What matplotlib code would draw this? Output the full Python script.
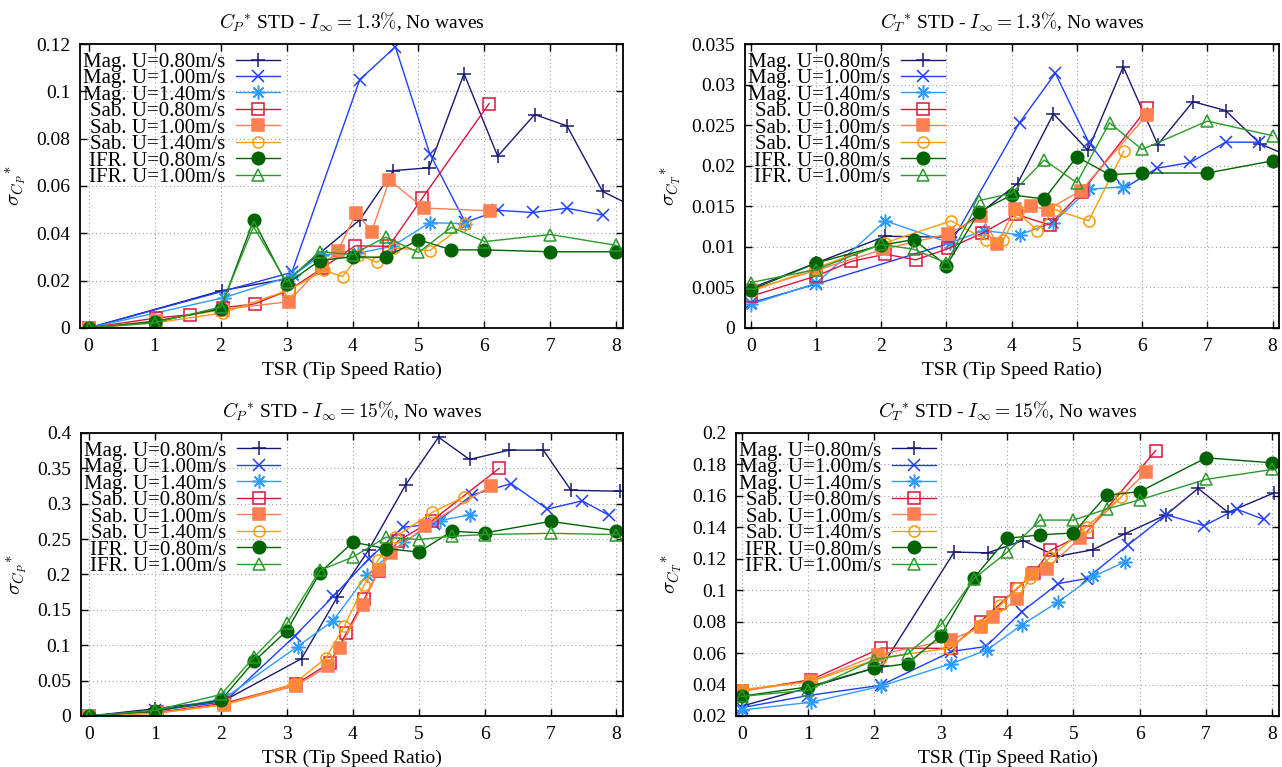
import numpy as np
import matplotlib.pyplot as plt
from matplotlib.ticker import FuncFormatter

plt.rcParams['font.family'] = 'serif'
plt.rcParams['font.serif'] = ['Liberation Serif', 'DejaVu Serif']
plt.rcParams['mathtext.fontset'] = 'cm'

labels = ["Mag. U=0.80m/s", "Mag. U=1.00m/s", "Mag. U=1.40m/s",
          "Sab. U=0.80m/s", "Sab. U=1.00m/s", "Sab. U=1.40m/s",
          "IFR. U=0.80m/s", "IFR. U=1.00m/s"]

# IFR runs share the same TSR set-points
tsr_ifr = [0, 1, 2, 2.5, 3, 3.5, 4, 4.5, 5, 5.5, 6, 7, 8]

# --- CP* STD, I = 1.3% ---
cp13_mag080_x = [0, 2.02, 3.05, 4.11, 4.62, 5.16, 5.69, 6.2, 6.76, 7.25, 7.79, 8.35]
cp13_mag080_y = [0, 0.0158, 0.021, 0.0457, 0.0665, 0.0677, 0.1075, 0.0726, 0.0902, 0.0854, 0.0577, 0.050]
cp13_mag100_x = [0, 3.08, 4.11, 4.65, 5.17, 5.71, 6.21, 6.73, 7.25, 7.79]
cp13_mag100_y = [0, 0.0235, 0.105, 0.1188, 0.0737, 0.0446, 0.0497, 0.0488, 0.0506, 0.0477]
cp13_mag140_x = [0, 2.05, 3.1, 3.54, 4.08, 4.6, 5.17, 5.7]
cp13_mag140_y = [0, 0.0128, 0.0222, 0.031, 0.0316, 0.0345, 0.0445, 0.0441]
cp13_sab080_x = [0, 1.02, 1.53, 2.03, 2.52, 3.04, 3.54, 4.04, 4.55, 5.06, 6.07]
cp13_sab080_y = [0, 0.0042, 0.0056, 0.0085, 0.0102, 0.016, 0.0253, 0.0347, 0.0345, 0.055, 0.0948]
cp13_sab100_x = [0, 1.02, 2.03, 3.03, 3.53, 3.78, 4.06, 4.29, 4.56, 5.08, 6.09]
cp13_sab100_y = [0, 0.003, 0.0078, 0.0111, 0.026, 0.0327, 0.0487, 0.0407, 0.0625, 0.0507, 0.0495]
cp13_sab140_x = [0, 1.02, 2.03, 3.04, 3.57, 3.85, 4.1, 4.37, 4.63, 5.17, 5.71]
cp13_sab140_y = [0, 0.0022, 0.0063, 0.0161, 0.0243, 0.0217, 0.0309, 0.0277, 0.0337, 0.0327, 0.044]
cp13_ifr080_y = [0, 0.0027, 0.008, 0.0455, 0.0185, 0.0285, 0.0301, 0.0298, 0.0373, 0.033, 0.033, 0.0322, 0.0322]
cp13_ifr100_y = [0, 0.0022, 0.0088, 0.0428, 0.0195, 0.0323, 0.031, 0.0384, 0.0319, 0.0426, 0.0365, 0.0395, 0.0349]

# --- CT* STD, I = 1.3% ---
ct13_mag080_x = [0, 1, 2.06, 3.05, 4.09, 4.64, 5.17, 5.71, 6.24, 6.78, 7.28, 7.81, 8.3]
ct13_mag080_y = [0.0049, 0.008, 0.0113, 0.0112, 0.0178, 0.0264, 0.0219, 0.0322, 0.0226, 0.0279, 0.0268, 0.0227, 0.021]
ct13_mag100_x = [0, 1, 3.07, 4.12, 4.67, 5.18, 5.72, 6.23, 6.74, 7.28, 7.8]
ct13_mag100_y = [0.0031, 0.0054, 0.0105, 0.0253, 0.0314, 0.0229, 0.0172, 0.0197, 0.0204, 0.0229, 0.0229]
ct13_mag140_x = [0, 1, 2.06, 3.05, 3.57, 4.12, 4.64, 5.18, 5.71]
ct13_mag140_y = [0.0029, 0.0055, 0.0132, 0.0105, 0.012, 0.0115, 0.013, 0.0171, 0.0174]
ct13_sab080_x = [0, 1, 1.54, 2.06, 2.53, 3.03, 3.55, 4.07, 4.58, 5.08, 6.08]
ct13_sab080_y = [0.0039, 0.0064, 0.0082, 0.0091, 0.0084, 0.0098, 0.0117, 0.014, 0.0127, 0.0168, 0.0271]
ct13_sab100_x = [0, 1, 2.03, 3.03, 3.53, 3.78, 4.05, 4.3, 4.55, 5.06, 6.08]
ct13_sab100_y = [0.0047, 0.0071, 0.0097, 0.0116, 0.0138, 0.0104, 0.0147, 0.015, 0.0146, 0.0169, 0.0263]
ct13_sab140_x = [0, 1, 2.06, 3.07, 3.6, 3.87, 4.09, 4.39, 4.66, 5.18, 5.72]
ct13_sab140_y = [0.0045, 0.0074, 0.0105, 0.0132, 0.0109, 0.0108, 0.0143, 0.012, 0.0146, 0.0132, 0.0218]
ct13_ifr080_y = [0.0047, 0.008, 0.0102, 0.0109, 0.0077, 0.0143, 0.0164, 0.0159, 0.0211, 0.0189, 0.0191, 0.0191, 0.0206]
ct13_ifr100_y = [0.0056, 0.0072, 0.0103, 0.0097, 0.008, 0.0157, 0.0166, 0.0207, 0.0179, 0.0253, 0.022, 0.0255, 0.0237]

# --- CP* STD, I = 15% ---
cp15_mag080_x = [0, 1, 2.05, 3.22, 3.76, 4.24, 4.8, 5.3, 5.77, 6.37, 6.89, 7.31, 8.05]
cp15_mag080_y = [0, 0.0103, 0.022, 0.081, 0.1675, 0.235, 0.3266, 0.394, 0.3626, 0.3757, 0.3757, 0.319, 0.3177]
cp15_mag100_x = [0, 1, 2.05, 3.12, 3.7, 4.24, 4.76, 5.23, 5.81, 6.4, 6.95, 7.48, 7.88]
cp15_mag100_y = [0, 0.008, 0.02, 0.1132, 0.169, 0.222, 0.2667, 0.2713, 0.3125, 0.3284, 0.2924, 0.3041, 0.284]
cp15_mag140_x = [0, 1, 2.05, 3.16, 3.7, 4.21, 4.76, 5.32, 5.77]
cp15_mag140_y = [0, 0.006, 0.025, 0.0982, 0.1347, 0.1988, 0.2456, 0.276, 0.2844]
cp15_sab080_x = [0, 1.02, 2.05, 3.14, 3.65, 3.9, 4.17, 4.39, 4.68, 5.2, 6.22]
cp15_sab080_y = [0, 0.005, 0.018, 0.0454, 0.0749, 0.117, 0.1647, 0.2049, 0.247, 0.276, 0.35]
cp15_sab100_x = [0, 1.02, 2.05, 3.14, 3.62, 3.8, 4.15, 4.39, 4.58, 5.1, 6.09]
cp15_sab100_y = [0, 0.004, 0.016, 0.043, 0.0702, 0.096, 0.1567, 0.207, 0.2306, 0.268, 0.325]
cp15_sab140_x = [0, 1.02, 2.05, 3.1, 3.59, 3.87, 4.17, 4.38, 4.64, 5.2, 5.69]
cp15_sab140_y = [0, 0.004, 0.016, 0.045, 0.0819, 0.127, 0.1848, 0.22, 0.2526, 0.2877, 0.3097]
cp15_ifr080_y = [0, 0.007, 0.0225, 0.0772, 0.1207, 0.2026, 0.2456, 0.2367, 0.2316, 0.261, 0.2587, 0.2751, 0.262]
cp15_ifr100_y = [0, 0.008, 0.0304, 0.0833, 0.131, 0.2058, 0.2246, 0.2526, 0.2494, 0.254, 0.2564, 0.2582, 0.2564]

# --- CT* STD, I = 15% ---
ct15_mag080_x = [0, 1, 2.12, 3.2, 3.71, 4.24, 4.75, 5.29, 5.77, 6.4, 6.88, 7.33, 8.03]
ct15_mag080_y = [0.0263, 0.0379, 0.052, 0.1242, 0.1238, 0.1316, 0.1215, 0.1257, 0.1358, 0.148, 0.1648, 0.1495, 0.162]
ct15_mag100_x = [0, 1, 2.1, 3.16, 3.68, 4.22, 4.77, 5.2, 5.83, 6.4, 6.97, 7.46, 7.87]
ct15_mag100_y = [0.0253, 0.033, 0.0396, 0.061, 0.0642, 0.0863, 0.1042, 0.1074, 0.129, 0.148, 0.141, 0.1516, 0.145]
ct15_mag140_x = [0, 1.05, 2.1, 3.16, 3.7, 4.22, 4.77, 5.3, 5.77]
ct15_mag140_y = [0.0238, 0.0288, 0.039, 0.0533, 0.0621, 0.0779, 0.0926, 0.1088, 0.1179]
ct15_sab080_x = [0, 1.05, 2.1, 3.15, 3.6, 3.9, 4.15, 4.4, 4.65, 5.2, 6.24]
ct15_sab080_y = [0.0358, 0.0432, 0.0632, 0.063, 0.08, 0.0916, 0.101, 0.111, 0.1253, 0.1368, 0.1888]
ct15_sab100_x = [0, 1.05, 2.05, 3.15, 3.6, 3.78, 4.15, 4.38, 4.6, 5.1, 6.1]
ct15_sab100_y = [0.036, 0.0421, 0.059, 0.0684, 0.0764, 0.0827, 0.0941, 0.1101, 0.1137, 0.1333, 0.1754]
ct15_sab140_x = [0, 1.05, 2.1, 3.12, 3.6, 3.9, 4.15, 4.35, 4.65, 5.2, 5.72]
ct15_sab140_y = [0.0368, 0.042, 0.057, 0.0632, 0.0779, 0.0905, 0.1015, 0.108, 0.121, 0.1404, 0.1594]
ct15_ifr080_y = [0.0326, 0.0385, 0.0505, 0.0533, 0.071, 0.1078, 0.133, 0.1352, 0.1364, 0.1604, 0.1627, 0.1842, 0.181]
ct15_ifr100_y = [0.0325, 0.0364, 0.0558, 0.0594, 0.0779, 0.1074, 0.1242, 0.1446, 0.1446, 0.1516, 0.1575, 0.1705, 0.1768]

# gnuplot-ish styles: colour, marker, filled?, marker size
styles = [
    ("#191970", "+", True, 10),
    ("#1f3fff", "x", True, 9),
    ("#2e9bff", (8, 2, 0), True, 10),
    ("#dc143c", "s", False, 8),
    ("#ff7f50", "s", True, 8.5),
    ("#ff9a0a", "o", False, 8),
    ("#006400", "o", True, 9),
    ("#2a9a2a", "^", False, 8),
]

panels = [
    dict(rect=[0.0624, 0.5724, 0.4236, 0.3702], xlim=(-0.13, 8.1), ylim=(0, 0.12),
         yticks=np.arange(0, 0.1201, 0.02), ylab=r"$\sigma_{C_P}{}^{*}$",
         title=r"$C_P{}^{*}$ STD - $I_\infty = 1.3\%$, No waves",
         series=[(cp13_mag080_x, cp13_mag080_y), (cp13_mag100_x, cp13_mag100_y),
                 (cp13_mag140_x, cp13_mag140_y), (cp13_sab080_x, cp13_sab080_y),
                 (cp13_sab100_x, cp13_sab100_y), (cp13_sab140_x, cp13_sab140_y),
                 (tsr_ifr, cp13_ifr080_y), (tsr_ifr, cp13_ifr100_y)]),
    dict(rect=[0.5811, 0.5724, 0.4166, 0.3702], xlim=(-0.09, 8.1), ylim=(0, 0.035),
         yticks=np.arange(0, 0.03501, 0.005), ylab=r"$\sigma_{C_T}{}^{*}$",
         title=r"$C_T{}^{*}$ STD - $I_\infty = 1.3\%$, No waves",
         series=[(ct13_mag080_x, ct13_mag080_y), (ct13_mag100_x, ct13_mag100_y),
                 (ct13_mag140_x, ct13_mag140_y), (ct13_sab080_x, ct13_sab080_y),
                 (ct13_sab100_x, ct13_sab100_y), (ct13_sab140_x, ct13_sab140_y),
                 (tsr_ifr, ct13_ifr080_y), (tsr_ifr, ct13_ifr100_y)]),
    dict(rect=[0.063, 0.0665, 0.4230, 0.369], xlim=(-0.13, 8.1), ylim=(0, 0.4),
         yticks=np.arange(0, 0.4001, 0.05), ylab=r"$\sigma_{C_P}{}^{*}$",
         title=r"$C_P{}^{*}$ STD - $I_\infty = 15\%$, No waves",
         series=[(cp15_mag080_x, cp15_mag080_y), (cp15_mag100_x, cp15_mag100_y),
                 (cp15_mag140_x, cp15_mag140_y), (cp15_sab080_x, cp15_sab080_y),
                 (cp15_sab100_x, cp15_sab100_y), (cp15_sab140_x, cp15_sab140_y),
                 (tsr_ifr, cp15_ifr080_y), (tsr_ifr, cp15_ifr100_y)]),
    dict(rect=[0.574, 0.0665, 0.4237, 0.369], xlim=(-0.09, 8.1), ylim=(0.02, 0.2),
         yticks=np.arange(0.02, 0.2001, 0.02), ylab=r"$\sigma_{C_T}{}^{*}$",
         title=r"$C_T{}^{*}$ STD - $I_\infty = 15\%$, No waves",
         series=[(ct15_mag080_x, ct15_mag080_y), (ct15_mag100_x, ct15_mag100_y),
                 (ct15_mag140_x, ct15_mag140_y), (ct15_sab080_x, ct15_sab080_y),
                 (ct15_sab100_x, ct15_sab100_y), (ct15_sab140_x, ct15_sab140_y),
                 (tsr_ifr, ct15_ifr080_y), (tsr_ifr, ct15_ifr100_y)]),
]

fig = plt.figure(figsize=(12.82, 7.67), dpi=100)

for p in panels:
    ax = fig.add_axes(p["rect"])
    for (x, y), lab, (col, mk, filled, ms) in zip(p["series"], labels, styles):
        ax.plot(x, y, color=col, lw=1.0, marker=mk, ms=ms, mew=1.1,
                mfc=col if filled else "none", mec=col, label=lab)
    ax.set_xlim(*p["xlim"])
    ax.set_ylim(*p["ylim"])
    ax.set_xticks(range(0, 9))
    ax.set_yticks(p["yticks"])
    ax.yaxis.set_major_formatter(FuncFormatter(lambda v, pos: "%g" % round(v, 4)))
    ax.grid(True, color="#a0a0a0", ls=(0, (1, 2.5)), lw=0.8)
    ax.tick_params(direction="in", top=True, right=True, length=5, width=1.0,
                   labelsize=14, pad=7)
    for s in ax.spines.values():
        s.set_linewidth(1.3)
    ax.set_xlabel("TSR (Tip Speed Ratio)", fontsize=14, labelpad=5)
    ax.set_ylabel(p["ylab"], fontsize=15, labelpad=6)
    ax.set_title(p["title"], fontsize=14, pad=11)
    ax.legend(loc="upper left", bbox_to_anchor=(0.0, 0.982), frameon=False,
              fontsize=15, markerfirst=False, handlelength=2.1,
              handletextpad=0.5, labelspacing=-0.15,
              borderpad=0.1, borderaxespad=0.05)

fig.savefig("out.png", dpi=100)
